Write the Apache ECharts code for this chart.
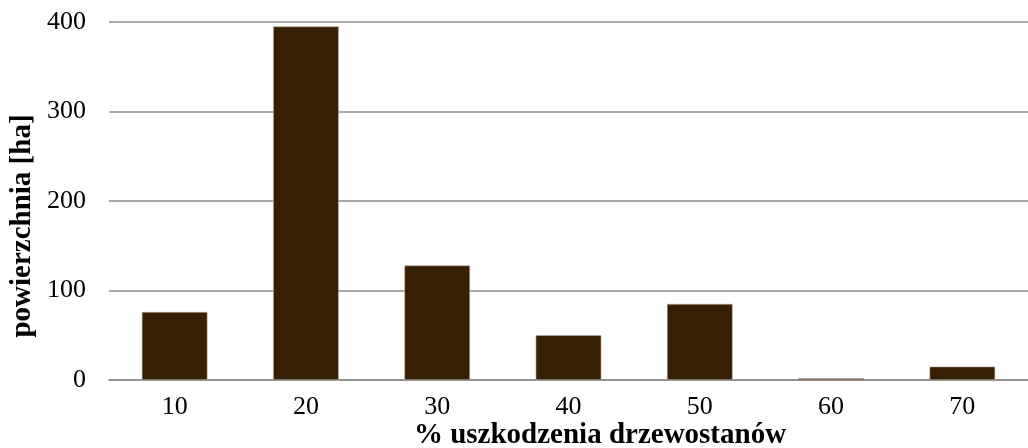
<!DOCTYPE html>
<html><head><meta charset="utf-8">
<script src="https://cdn.jsdelivr.net/npm/echarts@6/dist/echarts.min.js"></script>
<style>html,body{margin:0;padding:0;background:#fff}#c{width:1028px;height:448px}</style>
</head><body><div id="c"></div>
<script>
const categories = ['10','20','30','40','50','60','70'];
const values = [76, 395, 128, 50, 85, 2, 15];
const yTicks = [0, 100, 200, 300, 400];
const xTitle = '% uszkodzenia drzewostanów';
const yTitle = 'powierzchnia [ha]';

const FONT = '"Liberation Serif", "Times New Roman", serif';
const chart = echarts.init(document.getElementById('c'), null, {renderer: 'canvas'});
chart.setOption({
  animation: false,
  backgroundColor: '#fff',
  grid: {left: 109, top: 22, width: 929, height: 358, containLabel: false},
  xAxis: {
    type: 'category', data: categories,
    axisLine: {show: true, lineStyle: {color: '#8c8c8c', width: 1.5}},
    axisTick: {show: false},
    axisLabel: {color: '#000', fontFamily: FONT, fontSize: 26, margin: 14}
  },
  yAxis: {
    type: 'value', min: yTicks[0], max: yTicks[yTicks.length-1], interval: 100,
    axisLine: {show: false}, axisTick: {show: false},
    splitLine: {lineStyle: {color: '#8c8c8c', width: 1.5}},
    axisLabel: {color: '#000', fontFamily: FONT, fontSize: 26, margin: 23}
  },
  graphic: [
    {type: 'text', x: 600, y: 436, style: {text: xTitle, font: 'bold 29px ' + FONT, fill: '#000', textAlign: 'center', textVerticalAlign: 'middle'}},
    {type: 'text', x: 23, y: 226, rotation: Math.PI/2, style: {text: yTitle, font: 'bold 29px ' + FONT, fill: '#000', textAlign: 'center', textVerticalAlign: 'middle'}}
  ],
  series: [{
    type: 'bar', data: values, barWidth: '50%',
    itemStyle: {color: '#371f03', borderColor: '#b8b0a8', borderWidth: 0.6}
  }]
});
</script></body></html>
